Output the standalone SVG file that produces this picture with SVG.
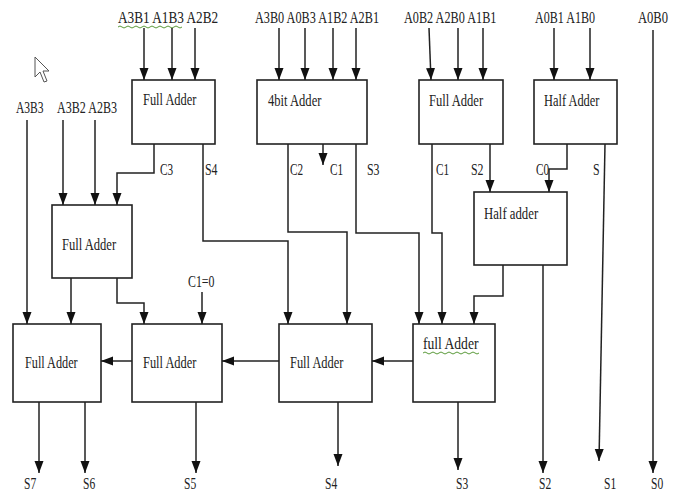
<svg xmlns="http://www.w3.org/2000/svg" width="676" height="493" viewBox="0 0 676 493">
<style>
.box{fill:#fff;stroke:#222;stroke-width:1.6}
.w{fill:none;stroke:#222;stroke-width:1.5}
.a{marker-end:url(#arr)}
text{font-family:"Liberation Serif","Times New Roman",serif;font-size:17px;fill:#222}
.sq{fill:none;stroke:#5a9a3a;stroke-width:1}
</style>
<defs>
<marker id="arr" markerUnits="userSpaceOnUse" markerWidth="12" markerHeight="10" viewBox="0 0 12 10" refX="12" refY="5" orient="auto">
<path d="M0,0.5 L12,5 L0,9.5 Z" fill="#111"/>
</marker>
</defs>
<rect width="676" height="493" fill="#fff"/>

<g id="inputs">
<text transform="translate(118,23) scale(0.78,1)">A3B1 A1B3 A2B2</text>
<text transform="translate(255,23) scale(0.72,1)">A3B0 A0B3 A1B2 A2B1</text>
<text transform="translate(404,23) scale(0.72,1)">A0B2 A2B0 A1B1</text>
<text transform="translate(535,23) scale(0.71,1)">A0B1 A1B0</text>
<text transform="translate(638,23) scale(0.74,1)">A0B0</text>
<text transform="translate(16,113) scale(0.68,1)">A3B3</text>
<text transform="translate(57,113) scale(0.71,1)">A3B2 A2B3</text>
<path class="sq" d="M118,27 q2,-2 4,0 t4,0 t4,0 t4,0 t4,0 t4,0 t4,0 t4,0 t4,0 t4,0 t4,0 t4,0 t4,0 t4,0 t4,0 t4,0"/>
</g>

<g id="fa1"><rect class="box" x="132" y="80" width="83" height="64"/><text transform="translate(143,105) scale(0.73,1)">Full Adder</text></g>
<g id="adder4"><rect class="box" x="257" y="80" width="110" height="64"/><text transform="translate(268,106) scale(0.74,1)">4bit Adder</text></g>
<g id="fa2"><rect class="box" x="419" y="80" width="84" height="64"/><text transform="translate(429,106) scale(0.74,1)">Full Adder</text></g>
<g id="ha1"><rect class="box" x="534" y="80" width="83" height="64"/><text transform="translate(544,106) scale(0.73,1)">Half Adder</text></g>
<g id="ha2"><rect class="box" x="474" y="192" width="93" height="73"/><text transform="translate(484,219) scale(0.75,1)">Half adder</text></g>
<g id="faL"><rect class="box" x="52" y="205" width="80" height="73"/><text transform="translate(62,250) scale(0.74,1)">Full Adder</text></g>
<g id="fa7"><rect class="box" x="13" y="324" width="88" height="78"/><text transform="translate(25,368) scale(0.72,1)">Full Adder</text></g>
<g id="fa6"><rect class="box" x="132" y="324" width="90" height="78"/><text transform="translate(143,368) scale(0.73,1)">Full Adder</text></g>
<g id="fa5"><rect class="box" x="279" y="324" width="93" height="78"/><text transform="translate(290,368) scale(0.73,1)">Full Adder</text></g>
<g id="fa3"><rect class="box" x="413" y="324" width="82" height="78"/><text transform="translate(423,349) scale(0.8,1)">full Adder</text>
<path class="sq" d="M423,353 q2,-2 4,0 t4,0 t4,0 t4,0 t4,0 t4,0 t4,0 t4,0 t4,0 t4,0 t4,0 t4,0 t4,0 t4,0"/></g>

<g id="connectors">
<path class="w a" d="M144,28 V80"/>
<path class="w a" d="M172,28 V80"/>
<path class="w a" d="M195,28 V80"/>
<path class="w a" d="M279,28 V80"/>
<path class="w a" d="M305,28 V80"/>
<path class="w a" d="M333,28 V80"/>
<path class="w a" d="M356,28 V80"/>
<path class="w a" d="M429,28 L431,80"/>
<path class="w a" d="M458,28 V80"/>
<path class="w a" d="M483,28 V80"/>
<path class="w a" d="M554,28 V80"/>
<path class="w a" d="M590,28 V80"/>
<path class="w a" d="M653,30 V473"/>
<path class="w a" d="M27,120 V324"/>
<path class="w a" d="M63,120 V205"/>
<path class="w a" d="M95,120 V205"/>
<path class="w a" d="M154,144 V173 H117 V205"/>
<path class="w a" d="M203,144 V241 H288 V324"/>
<path class="w a" d="M288,144 V232 H347 V324"/>
<path class="w a" d="M323,144 V165"/>
<path class="w a" d="M356,144 V233 H419 V324"/>
<path class="w a" d="M432,144 V233 H442 V324"/>
<path class="w a" d="M490,144 V192"/>
<path class="w a" d="M567,144 V169 H549 V192"/>
<path class="w a" d="M605,144 L599,461"/>
<path class="w a" d="M503,265 V296 H474 V324"/>
<path class="w a" d="M543,265 V473"/>
<path class="w a" d="M71,278 V324"/>
<path class="w a" d="M117,278 V303 H144 V324"/>
<path class="w a" d="M202,292 V324"/>
<path class="w a" d="M413,361 H372"/>
<path class="w a" d="M279,361 H222"/>
<path class="w a" d="M132,361 H101"/>
<path class="w a" d="M39,402 V473"/>
<path class="w a" d="M85,402 V473"/>
<path class="w a" d="M196,402 V473"/>
<path class="w a" d="M338,402 V466"/>
<path class="w a" d="M458,402 V470"/>
</g>

<g id="labels">
<text transform="translate(160,175) scale(0.66,1)">C3</text>
<text transform="translate(205,175) scale(0.7,1)">S4</text>
<text transform="translate(290,175) scale(0.66,1)">C2</text>
<text transform="translate(330,175) scale(0.66,1)">C1</text>
<text transform="translate(367,175) scale(0.7,1)">S3</text>
<text transform="translate(436,175) scale(0.66,1)">C1</text>
<text transform="translate(471,175) scale(0.7,1)">S2</text>
<text transform="translate(536,175) scale(0.66,1)">C0</text>
<text transform="translate(593,175) scale(0.7,1)">S</text>
<text transform="translate(188,287) scale(0.7,1)">C1=0</text>
<text transform="translate(24,489) scale(0.68,1)">S7</text>
<text transform="translate(83,489) scale(0.68,1)">S6</text>
<text transform="translate(184,489) scale(0.68,1)">S5</text>
<text transform="translate(325,489) scale(0.68,1)">S4</text>
<text transform="translate(456,489) scale(0.68,1)">S3</text>
<text transform="translate(539,489) scale(0.68,1)">S2</text>
<text transform="translate(604,489) scale(0.68,1)">S1</text>
<text transform="translate(651,489) scale(0.68,1)">S0</text>
</g>

<path d="M35,57 L35,77 L40,72 L44,82 L47,81 L43,71 L49,71 Z" fill="#fff" stroke="#555" stroke-width="1"/>
</svg>
